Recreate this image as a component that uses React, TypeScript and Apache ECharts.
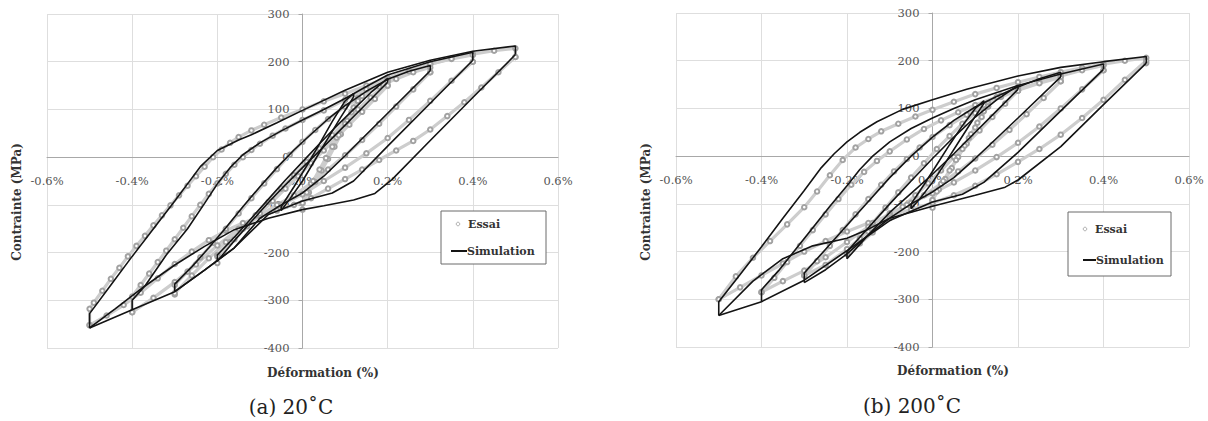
import React, { useEffect, useRef } from "react";
import * as echarts from "echarts";

type P = [number, number];

// ---------- axis ticks ----------
const X_MIN = -0.6, X_MAX = 0.6, X_STEP = 0.2;
const Y_MIN = -400, Y_MAX = 300, Y_STEP = 100;

// ---------- (a) 20°C : simulation ----------
const simA5up: P[] = [[-0.5,-358],[-0.5,-328],[-0.45,-268],[-0.4,-208],[-0.35,-150],[-0.3,-92],[-0.27,-56],[-0.24,-20],[-0.2,14],[-0.15,36],[-0.12,47],[-0.06,72],[0,98],[0.1,140],[0.2,178],[0.3,203],[0.4,222],[0.5,233],[0.5,215]];
const simA5down: P[] = [[0.5,215],[0.4,125],[0.3,35],[0.21,-47],[0.17,-76],[0.12,-90],[0.05,-102],[0,-110],[-0.08,-128],[-0.16,-152],[-0.23,-187],[-0.3,-226],[-0.37,-270],[-0.44,-318],[-0.5,-358]];
const simA4up: P[] = [[-0.4,-320],[-0.4,-300],[-0.37,-270],[-0.32,-205],[-0.27,-150],[-0.23,-97],[-0.2,-56],[-0.17,-22],[-0.14,5],[-0.1,30],[-0.05,55],[0,78],[0.05,100],[0.1,123],[0.15,148],[0.2,172],[0.3,200],[0.4,220],[0.4,203]];
const simA4down: P[] = [[0.4,203],[0.3,113],[0.2,23],[0.12,-50],[0.07,-75],[0,-92],[-0.08,-120],[-0.16,-190],[-0.23,-237],[-0.3,-282],[-0.4,-320],[-0.5,-358]];
const simA3up: P[] = [[-0.3,-282],[-0.3,-266],[-0.26,-230],[-0.22,-190],[-0.18,-148],[-0.14,-104],[-0.1,-62],[-0.06,-22],[-0.02,15],[0.02,48],[0.06,80],[0.1,108],[0.15,138],[0.2,163],[0.25,180],[0.3,192],[0.3,181]];
const simA3down: P[] = [[0.3,181],[0.2,92],[0.1,3],[0.05,-40],[0,-75],[-0.05,-100],[-0.1,-128],[-0.16,-190],[-0.23,-237],[-0.3,-282]];
const simA2up: P[] = [[-0.2,-218],[-0.2,-205],[-0.16,-168],[-0.12,-128],[-0.08,-88],[-0.04,-48],[0,-10],[0.04,28],[0.08,65],[0.12,100],[0.16,135],[0.2,165],[0.2,157]];
const simA2down: P[] = [[0.2,157],[0.15,112],[0.1,67],[0.05,22],[0,-22],[-0.04,-58],[-0.08,-95],[-0.12,-135],[-0.16,-175],[-0.2,-218]];
const simA1up: P[] = [[-0.05,-112],[-0.05,-104],[-0.02,-62],[0.01,-18],[0.04,28],[0.07,75],[0.1,118],[0.12,133],[0.12,126]];
const simA1down: P[] = [[0.12,126],[0.09,84],[0.06,40],[0.03,-5],[0,-50],[-0.03,-88],[-0.05,-112]];

// ---------- (a) 20°C : experiment ----------
const essA5up: P[] = [[-0.5,-352],[-0.5,-318],[-0.49,-305],[-0.47,-280],[-0.45,-255],[-0.43,-232],[-0.41,-208],[-0.39,-186],[-0.37,-165],[-0.35,-143],[-0.33,-122],[-0.31,-101],[-0.29,-80],[-0.27,-60],[-0.25,-40],[-0.23,-20],[-0.21,0],[-0.19,16],[-0.17,30],[-0.15,42],[-0.12,56],[-0.09,68],[-0.05,83],[0,100],[0.05,117],[0.1,133],[0.15,150],[0.2,166],[0.25,181],[0.3,195],[0.35,207],[0.4,216],[0.45,223],[0.5,228],[0.5,210]];
const essA5down: P[] = [[0.5,210],[0.46,178],[0.42,146],[0.38,115],[0.34,86],[0.3,58],[0.26,34],[0.22,14],[0.18,-6],[0.14,-26],[0.1,-46],[0.06,-66],[0.02,-86],[-0.02,-100],[-0.06,-112],[-0.1,-124],[-0.14,-138],[-0.18,-154],[-0.22,-174],[-0.26,-198],[-0.3,-224],[-0.34,-254],[-0.38,-284],[-0.42,-310],[-0.46,-332],[-0.5,-352]];
const essA4up: P[] = [[-0.4,-325],[-0.4,-292],[-0.38,-268],[-0.36,-244],[-0.34,-220],[-0.32,-196],[-0.3,-172],[-0.28,-148],[-0.26,-124],[-0.24,-100],[-0.22,-77],[-0.2,-55],[-0.18,-35],[-0.16,-16],[-0.14,0],[-0.12,15],[-0.1,28],[-0.07,45],[-0.04,60],[0,78],[0.05,98],[0.1,120],[0.15,142],[0.2,163],[0.25,180],[0.3,195],[0.35,206],[0.4,214],[0.4,200]];
const essA4down: P[] = [[0.4,200],[0.35,160],[0.3,118],[0.25,78],[0.2,40],[0.15,8],[0.1,-22],[0.05,-50],[0,-78],[-0.05,-100],[-0.1,-122],[-0.15,-150],[-0.2,-185],[-0.25,-225],[-0.3,-262],[-0.35,-295],[-0.4,-325]];
const essA3up: P[] = [[-0.3,-288],[-0.3,-268],[-0.27,-240],[-0.24,-210],[-0.21,-180],[-0.18,-150],[-0.15,-118],[-0.12,-86],[-0.09,-55],[-0.06,-25],[-0.03,5],[0,32],[0.03,57],[0.06,80],[0.1,106],[0.14,128],[0.18,148],[0.22,164],[0.26,178],[0.3,188],[0.3,178]];
const essA3down: P[] = [[0.3,178],[0.26,142],[0.22,106],[0.18,70],[0.14,36],[0.1,4],[0.06,-26],[0.02,-55],[-0.02,-80],[-0.06,-100],[-0.1,-122],[-0.14,-148],[-0.18,-178],[-0.22,-212],[-0.26,-248],[-0.3,-285]];
const essA2up: P[] = [[-0.2,-222],[-0.2,-205],[-0.17,-178],[-0.14,-150],[-0.11,-122],[-0.08,-94],[-0.05,-66],[-0.02,-38],[0.01,-10],[0.04,18],[0.07,46],[0.1,74],[0.13,100],[0.16,125],[0.2,158],[0.2,150]];
const essA2down: P[] = [[0.2,150],[0.17,122],[0.14,95],[0.11,68],[0.08,41],[0.05,14],[0.02,-13],[-0.01,-40],[-0.04,-66],[-0.07,-92],[-0.1,-118],[-0.13,-145],[-0.16,-172],[-0.2,-208]];
const essA1up: P[] = [[0,-110],[0,-96],[0.015,-74],[0.03,-52],[0.045,-28],[0.06,-4],[0.075,22],[0.09,48],[0.105,76],[0.12,104],[0.13,124],[0.13,118]];
const essA1down: P[] = [[0.13,118],[0.115,94],[0.1,70],[0.085,46],[0.07,22],[0.055,-2],[0.04,-26],[0.025,-50],[0.01,-74],[0,-96]];

// ---------- (b) 200°C : simulation ----------
const simB5up: P[] = [[-0.5,-334],[-0.5,-305],[-0.45,-248],[-0.4,-190],[-0.35,-130],[-0.3,-72],[-0.26,-24],[-0.23,5],[-0.2,30],[-0.17,50],[-0.13,72],[-0.07,98],[0,118],[0.08,140],[0.2,168],[0.3,186],[0.4,198],[0.5,209],[0.5,195]];
const simB5down: P[] = [[0.5,195],[0.4,108],[0.3,20],[0.2,-50],[0.17,-65],[0.1,-82],[0,-105],[-0.1,-130],[-0.15,-153],[-0.2,-172],[-0.28,-188],[-0.35,-215],[-0.42,-262],[-0.5,-334]];
const simB4up: P[] = [[-0.4,-305],[-0.4,-280],[-0.36,-240],[-0.32,-195],[-0.28,-150],[-0.24,-105],[-0.2,-62],[-0.17,-28],[-0.14,0],[-0.1,30],[-0.05,58],[0,80],[0.05,100],[0.1,118],[0.2,148],[0.3,172],[0.4,193],[0.4,182]];
const simB4down: P[] = [[0.4,182],[0.3,95],[0.2,8],[0.12,-55],[0.07,-80],[0,-96],[-0.1,-135],[-0.2,-198],[-0.3,-260],[-0.4,-305],[-0.5,-334]];
const simB3up: P[] = [[-0.3,-265],[-0.3,-245],[-0.25,-195],[-0.2,-145],[-0.15,-95],[-0.1,-45],[-0.05,0],[0,40],[0.05,75],[0.1,103],[0.15,125],[0.2,145],[0.25,162],[0.3,176],[0.3,166]];
const simB3down: P[] = [[0.3,166],[0.2,80],[0.1,-5],[0.05,-45],[0,-75],[-0.05,-100],[-0.1,-130],[-0.15,-165],[-0.2,-205],[-0.25,-238],[-0.3,-265]];
const simB2up: P[] = [[-0.2,-215],[-0.2,-200],[-0.15,-150],[-0.1,-100],[-0.05,-52],[0,-5],[0.05,40],[0.1,82],[0.15,118],[0.2,148],[0.2,140]];
const simB2down: P[] = [[0.2,140],[0.15,95],[0.1,50],[0.05,5],[0,-38],[-0.05,-78],[-0.1,-118],[-0.15,-165],[-0.2,-215]];
const simB1up: P[] = [[-0.05,-110],[-0.05,-100],[-0.02,-60],[0.01,-18],[0.04,24],[0.07,64],[0.1,100],[0.12,116],[0.12,110]];
const simB1down: P[] = [[0.12,110],[0.09,70],[0.06,28],[0.03,-14],[0,-55],[-0.03,-90],[-0.05,-110]];

// ---------- (b) 200°C : experiment ----------
const essB5up: P[] = [[-0.5,-300],[-0.46,-252],[-0.42,-213],[-0.38,-178],[-0.34,-143],[-0.3,-107],[-0.27,-74],[-0.24,-40],[-0.21,-8],[-0.18,18],[-0.15,36],[-0.12,52],[-0.08,68],[-0.04,83],[0,97],[0.05,114],[0.1,130],[0.15,143],[0.2,155],[0.25,166],[0.3,176],[0.35,185],[0.4,193],[0.45,200],[0.5,206],[0.5,195]];
const essB5down: P[] = [[0.5,200],[0.45,160],[0.4,118],[0.35,80],[0.3,45],[0.25,15],[0.2,-12],[0.15,-38],[0.1,-62],[0.05,-82],[0,-98],[-0.05,-112],[-0.1,-125],[-0.15,-140],[-0.2,-158],[-0.25,-178],[-0.3,-200],[-0.35,-225],[-0.4,-250],[-0.45,-275],[-0.5,-300]];
const essB4up: P[] = [[-0.4,-285],[-0.37,-255],[-0.34,-222],[-0.31,-188],[-0.28,-155],[-0.25,-122],[-0.22,-90],[-0.19,-60],[-0.16,-33],[-0.13,-10],[-0.1,10],[-0.06,35],[-0.02,57],[0.02,75],[0.06,92],[0.1,107],[0.15,124],[0.2,140],[0.25,155],[0.3,168],[0.35,180],[0.4,190],[0.4,180]];
const essB4down: P[] = [[0.4,180],[0.35,140],[0.3,100],[0.25,62],[0.2,28],[0.15,-2],[0.1,-30],[0.05,-55],[0,-78],[-0.05,-98],[-0.1,-120],[-0.15,-148],[-0.2,-180],[-0.25,-212],[-0.3,-240],[-0.35,-262],[-0.4,-285]];
const essB3up: P[] = [[-0.3,-250],[-0.27,-220],[-0.24,-188],[-0.21,-155],[-0.18,-122],[-0.15,-90],[-0.12,-60],[-0.09,-32],[-0.06,-6],[-0.03,18],[0,40],[0.04,65],[0.08,87],[0.12,107],[0.16,124],[0.2,138],[0.25,153],[0.3,165],[0.3,157]];
const essB3down: P[] = [[0.3,157],[0.26,122],[0.22,88],[0.18,55],[0.14,24],[0.1,-5],[0.06,-32],[0.02,-58],[-0.02,-82],[-0.06,-102],[-0.1,-125],[-0.15,-158],[-0.2,-195],[-0.25,-228],[-0.3,-250]];
const essB2up: P[] = [[-0.2,-205],[-0.17,-172],[-0.14,-140],[-0.11,-108],[-0.08,-76],[-0.05,-45],[-0.02,-15],[0.01,15],[0.04,42],[0.07,68],[0.1,90],[0.13,110],[0.16,127],[0.2,145],[0.2,137]];
const essB2down: P[] = [[0.2,137],[0.17,110],[0.14,82],[0.11,54],[0.08,26],[0.05,-2],[0.02,-30],[-0.01,-57],[-0.04,-82],[-0.07,-106],[-0.1,-130],[-0.14,-160],[-0.17,-183],[-0.2,-205]];
const essB1up: P[] = [[0,-108],[0,-92],[0.015,-70],[0.03,-48],[0.045,-25],[0.06,-2],[0.075,22],[0.09,46],[0.105,70],[0.12,94],[0.13,110],[0.13,104]];
const essB1down: P[] = [[0.13,104],[0.115,82],[0.1,60],[0.085,38],[0.07,15],[0.055,-8],[0.04,-30],[0.025,-52],[0.01,-74],[0,-92]];

const panels = [
  {
    sim: [simA5up, simA5down, simA4up, simA4down, simA3up, simA3down, simA2up, simA2down, simA1up, simA1down],
    ess: [essA5up, essA5down, essA4up, essA4down, essA3up, essA3down, essA2up, essA2down, essA1up, essA1down],
  },
  {
    sim: [simB5up, simB5down, simB4up, simB4down, simB3up, simB3down, simB2up, simB2down, simB1up, simB1down],
    ess: [essB5up, essB5down, essB4up, essB4down, essB3up, essB3down, essB2up, essB2down, essB1up, essB1down],
  },
];

const LABEL_FONT = "'DejaVu Serif', serif";
const NAME_FONT = "'DejaVu Serif', serif";
const CAP_FONT = "'DejaVu Serif', serif";

export default function App() {
  const ref = useRef<HTMLDivElement>(null);
  useEffect(() => {
    if (!ref.current) return;
    const chart = echarts.init(ref.current, undefined, { renderer: "svg" });
    const grids = [
      { left: 47, top: 14, width: 511, height: 334 },
      { left: 676, top: 13, width: 513, height: 334 },
    ];
    // move axes onto the zero lines with offsets (labels follow the line)
    const yZeroFrac = (0 - Y_MIN) / (Y_MAX - Y_MIN);
    const xZeroFrac = (0 - X_MIN) / (X_MAX - X_MIN);
    const xAxes = grids.map((g, i) => ({
      type: "value",
      gridIndex: i,
      min: X_MIN,
      max: X_MAX,
      interval: X_STEP,
      position: "bottom",
      offset: -g.height * yZeroFrac,
      axisLine: { onZero: false, lineStyle: { color: "#a8a8a8", width: 1 } },
      axisTick: { show: false },
      axisLabel: {
        formatter: (v: number) => v.toFixed(1) + "%",
        fontFamily: LABEL_FONT,
        fontSize: 11.5,
        color: "#555",
        margin: 18,
        showMinLabel: true,
        showMaxLabel: true,
      },
      splitLine: { show: true, lineStyle: { color: "#dedede", width: 1 } },
    }));
    const yAxes = grids.map((g, i) => ({
      type: "value",
      gridIndex: i,
      min: Y_MIN,
      max: Y_MAX,
      interval: Y_STEP,
      position: "left",
      offset: -g.width * xZeroFrac,
      axisLine: { show: true, onZero: false, lineStyle: { color: "#a8a8a8", width: 1 } },
      axisTick: { show: true, length: 4, lineStyle: { color: "#a8a8a8" } },
      axisLabel: {
        fontFamily: LABEL_FONT,
        fontSize: 11.5,
        color: "#555",
        margin: 13,
        showMinLabel: true,
        showMaxLabel: true,
      },
      splitLine: { show: true, lineStyle: { color: "#dedede", width: 1 } },
    }));
    const series: any[] = [];
    panels.forEach((p, i) => {
      p.ess.forEach((d) =>
        series.push({
          type: "line",
          name: "Essai",
          xAxisIndex: i,
          yAxisIndex: i,
          data: d,
          symbol: "emptyCircle",
          symbolSize: 4.5,
          showSymbol: true,
          itemStyle: { color: "#a2a2a2", borderWidth: 1 },
          lineStyle: { color: "#cdcdcd", width: 3.2 },
          z: 2,
          silent: true,
        })
      );
      p.sim.forEach((d) =>
        series.push({
          type: "line",
          name: "Simulation",
          xAxisIndex: i,
          yAxisIndex: i,
          data: d,
          symbol: "none",
          showSymbol: false,
          lineStyle: { color: "#141414", width: 1.6 },
          z: 3,
          silent: true,
        })
      );
    });

    const axisNames = (cxName: number, cyName: number, cxY: number, cyY: number) => [
      {
        type: "text",
        x: cxY,
        y: cyY,
        rotation: Math.PI / 2,
        style: {
          text: "Contrainte (MPa)",
          font: `bold 12px ${NAME_FONT}`,
          fill: "#333",
          align: "center",
          verticalAlign: "middle",
        },
      },
      {
        type: "text",
        x: cxName,
        y: cyName,
        style: {
          text: "Déformation (%)",
          font: `bold 12px ${NAME_FONT}`,
          fill: "#333",
          align: "center",
          verticalAlign: "middle",
        },
      },
    ];
    const legend = (x: number, y: number, w: number, h: number, r1: number, r2: number, cx: number, tx: number, lx1: number, lx2: number, tx2: number) => [
      {
        type: "rect",
        shape: { x, y, width: w, height: h },
        style: { fill: "#fff", stroke: "#6a6a6a", lineWidth: 1 },
        z: 10,
      },
      { type: "circle", shape: { cx, cy: r1, r: 1.8 }, style: { fill: "#fff", stroke: "#b0b0b0", lineWidth: 1 }, z: 11 },
      {
        type: "text",
        x: tx,
        y: r1,
        style: { text: "Essai", font: `bold 11px ${NAME_FONT}`, fill: "#333", align: "left", verticalAlign: "middle" },
        z: 11,
      },
      { type: "line", shape: { x1: lx1, y1: r2, x2: lx2, y2: r2 }, style: { stroke: "#141414", lineWidth: 2 }, z: 11 },
      {
        type: "text",
        x: tx2,
        y: r2,
        style: { text: "Simulation", font: `bold 11px ${NAME_FONT}`, fill: "#333", align: "left", verticalAlign: "middle" },
        z: 11,
      },
    ];
    const caption = (cx: number, cy: number, t: string) => ({
      type: "text",
      x: cx,
      y: cy,
      style: { text: t, font: `20px ${CAP_FONT}`, fill: "#222", align: "center", verticalAlign: "middle" },
    });

    chart.setOption({
      animation: false,
      backgroundColor: "#fff",
      grid: grids,
      xAxis: xAxes,
      yAxis: yAxes,
      series,
      graphic: [
        ...axisNames(323, 373, 17, 202),
        ...axisNames(953, 371, 646, 202),
        ...legend(441, 211, 105, 53, 224, 251, 458, 468, 451, 467, 467),
        ...legend(1068, 212, 103, 64, 229, 260, 1085, 1095, 1083, 1096, 1096),
        caption(291, 407, "(a) 20˚C"),
        caption(912, 406, "(b) 200˚C"),
      ],
    });
    return () => chart.dispose();
  }, []);
  return (
    <div
      ref={ref}
      style={{ position: "absolute", left: 0, top: 0, width: 1208, height: 421, background: "#fff" }}
    />
  );
}
